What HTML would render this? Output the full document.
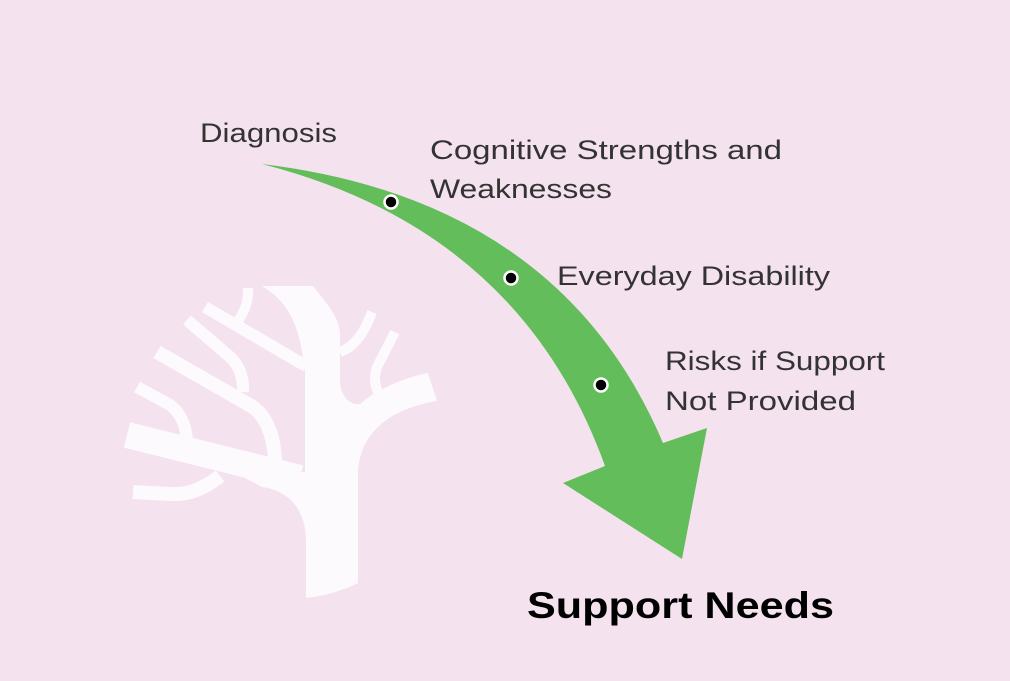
<!DOCTYPE html>
<html><head><style>html,body{margin:0;padding:0;background:#f4e2ef;}svg{display:block}</style></head>
<body>
<svg width="1010" height="681" viewBox="0 0 1010 681" xmlns="http://www.w3.org/2000/svg">
<rect width="1010" height="681" fill="#f4e2ef"/>
<g fill="#fdfafd" stroke="none">
<path d="M262,286 L313,286 C328,305 340,318 340,335 L340,383 C342,398 350,405 360,404 L373,394 C395,382 412,376 428,373 L437,401 C400,407 362,425 358,470 L358,583 C340,592 322,596 306,598 L306,540 C305,505 285,490 262,487 L245,478 L305,472 L305,372 C300,320 285,300 262,286 Z"/>
</g>
<g fill="none" stroke="#fdfafd" stroke-linecap="butt">
<path d="M127,435 L300,478" stroke-width="26"/>
<path d="M220,476 Q195,496 170,494 L133,492" stroke-width="14"/>
<path d="M157,352 L253,407 Q273,422 275,460" stroke-width="14"/>
<path d="M137,387 L170,405 Q185,416 187,440" stroke-width="12"/>
<path d="M187,320 L230,357 Q244,370 243,392" stroke-width="12"/>
<path d="M205,307 L306,366" stroke-width="12"/>
<path d="M248,288 Q249,307 237,322" stroke-width="10"/>
<path d="M372,312 Q360,345 340,352" stroke-width="10"/>
<path d="M395,332 L378,365 Q372,378 378,392" stroke-width="10"/>
</g>
<path d="M262,164 Q560,200 663,443 L707,428 L682,559 L563,483 L605,466 Q520,230 262,164 Z" fill="#62bd5a"/>
<g fill="#000" stroke="#fff" stroke-width="2.5">
<circle cx="391" cy="202" r="6.5"/>
<circle cx="511" cy="278" r="6.5"/>
<circle cx="601" cy="385" r="6.5"/>
</g>
<g font-family="Liberation Sans, sans-serif" font-size="27" fill="#333">
<text x="200" y="142" textLength="137" lengthAdjust="spacingAndGlyphs">Diagnosis</text>
<text x="430" y="159" textLength="352" lengthAdjust="spacingAndGlyphs">Cognitive  Strengths and</text>
<text x="430" y="198" textLength="182" lengthAdjust="spacingAndGlyphs">Weaknesses</text>
<text x="557" y="285" textLength="273" lengthAdjust="spacingAndGlyphs">Everyday Disability</text>
<text x="665" y="370" textLength="220" lengthAdjust="spacingAndGlyphs">Risks if Support</text>
<text x="665" y="410" textLength="191" lengthAdjust="spacingAndGlyphs">Not Provided</text>
</g>
<text x="527" y="618" font-family="Liberation Sans, sans-serif" font-weight="bold" font-size="37" fill="#000" textLength="307" lengthAdjust="spacingAndGlyphs">Support Needs</text>
</svg>
</body></html>
